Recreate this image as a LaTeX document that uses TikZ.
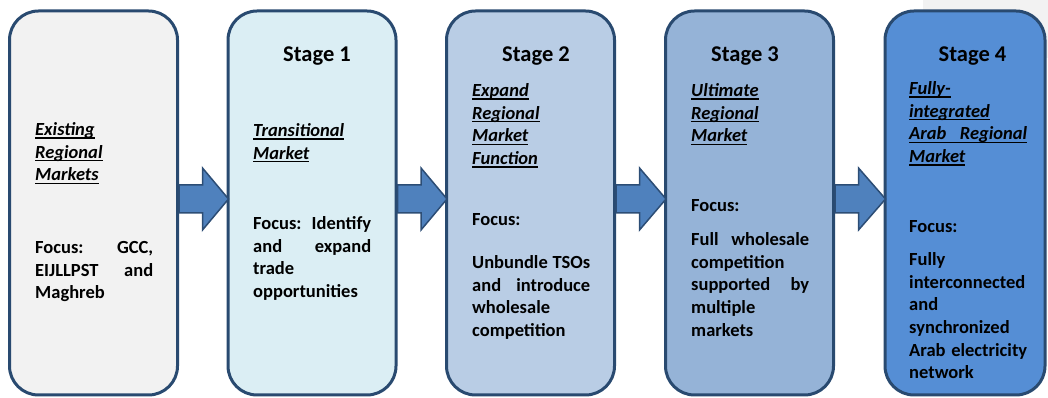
\documentclass[tikz,border=0pt]{standalone}
\usepackage{fontspec}
\setmainfont{Carlito}
\usetikzlibrary{calc}
\definecolor{bd}{HTML}{294A70}
\definecolor{arrowbd}{HTML}{2C4D75}
\definecolor{arrowfill}{HTML}{4F81BD}
\definecolor{c0}{HTML}{F2F2F2}
\definecolor{c1}{HTML}{DBEEF4}
\definecolor{c2}{HTML}{B9CDE5}
\definecolor{c3}{HTML}{95B3D7}
\definecolor{c4}{HTML}{558ED5}
\newlength\tw \setlength\tw{118pt}
\newcommand\sline[2]{\leavevmode\hbox to\tw{#1\hfill #2}}
\newcommand\ulx[1]{\leavevmode\setbox0=\hbox{#1}\rlap{\rule[-3pt]{\wd0}{1.4pt}}\box0}
\newcommand\blockarrow[2]{%
  \draw[blk] ($(#1.east)+(0,18)$) -- ($(#1.east)+(23.5,18)$) -- ($(#1.east)+(23.5,35)$)
    -- ($(#2.west)+(2,4)$) -- ($(#1.east)+(23.5,-27)$) -- ($(#1.east)+(23.5,-10)$)
    -- ($(#1.east)+(0,-10)$) -- cycle;}
\begin{document}
\begin{tikzpicture}[x=1pt,y=1pt,
  stagebox/.style={draw=bd, line width=3pt, rounded corners=29pt, minimum width=168pt, minimum height=384pt, inner sep=0pt},
  txt/.style={anchor=north west, inner sep=0pt, text width=118pt, align=left, font=\fontsize{18.5}{22.6}\selectfont\bfseries},
  hd/.style={txt, font=\fontsize{18.5}{22.6}\selectfont\bfseries\itshape},
  ttl/.style={anchor=base, inner sep=0pt, font=\fontsize{22.5}{27}\selectfont\bfseries},
  blk/.style={draw=arrowbd, fill=arrowfill, line width=1.5pt, line join=miter}]
\useasboundingbox (0,0) rectangle (1048,398);
\fill[c0] (923,340) rectangle (1048,398);
% boxes
\node[stagebox, fill=c0] (b0) at (93.5,195) {};
\node[stagebox, fill=c1] (b1) at (312,195) {};
\node[stagebox, fill=c2] (b2) at (530.5,195) {};
\node[stagebox, fill=c3] (b3) at (749.5,195) {};
\node[stagebox, fill=c4, minimum width=160pt] (b4) at (965,195) {};
% arrows
\blockarrow{b0}{b1}
\blockarrow{b1}{b2}
\blockarrow{b2}{b3}
\blockarrow{b3}{b4}
% titles
\node[ttl] (t1) at (317,336) {Stage 1};
\node[ttl] (t2) at (536,336) {Stage 2};
\node[ttl] (t3) at (745,336) {Stage 3};
\node[ttl] (t4) at (972.5,336) {Stage 4};
% box 0
\node[hd] (h0) at (35,278.25) {\strut\ulx{Existing}\\\ulx{Regional}\\\ulx{Markets}};
\node[txt] (f0) at (35,160.25) {\strut\sline{Focus:}{GCC,}\\\sline{EIJLLPST}{and}\\Maghreb};
% box 1
\node[hd] (h1) at (253,277.25) {\strut\ulx{Transitional}\\\ulx{Market}};
\node[txt] (f1) at (253,184.25) {\strut\sline{Focus:}{Identify}\\\sline{and}{expand}\\trade\\opportunities};
% box 2
\node[hd] (h2) at (472,317.25) {\strut\ulx{Expand}\\\ulx{Regional}\\\ulx{Market}\\\ulx{Function}};
\node[txt] (l2) at (472,188.25) {\strut Focus:};
\node[txt] (f2) at (472,145.25) {\strut\sline{Unbundle}{TSOs}\\\sline{and}{introduce}\\wholesale\\competition};
% box 3
\node[hd] (h3) at (691,317.25) {\strut\ulx{Ultimate}\\\ulx{Regional}\\\ulx{Market}};
\node[txt] (l3) at (691,202.25) {\strut Focus:};
\node[txt] (f3) at (691,168.25) {\strut\sline{Full}{wholesale}\\competition\\\sline{supported}{by}\\multiple\\markets};
% box 4
\node[hd] (h4) at (909,319.25) {\strut\ulx{Fully-}\\\ulx{integrated}\\\ulx{\sline{Arab}{Regional}}\\\ulx{Market}};
\node[txt] (l4) at (909,181.25) {\strut Focus:};
\node[txt] (f4) at (909,148.25) {\strut Fully\\interconnected\\and\\synchronized\\\sline{Arab}{electricity}\\network};
\end{tikzpicture}
\end{document}
